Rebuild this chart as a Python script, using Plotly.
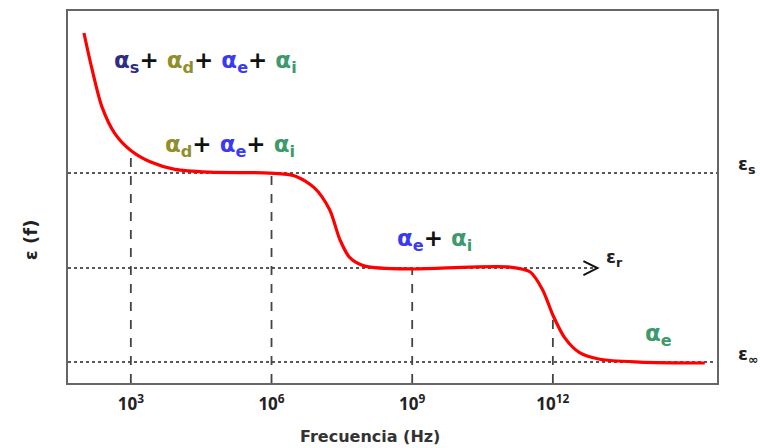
import plotly.graph_objects as go

# ---- data (x = log10 of frequency in Hz, y = permittivity, arbitrary units) ----
curve_logf = [2.0, 2.17, 2.38, 2.66, 3.0, 3.41, 3.94, 4.68, 5.96, 6.5, 6.92, 7.24, 7.46,
              7.67, 7.99, 8.97, 10.23, 11.08, 11.51, 11.78, 12.0, 12.25, 12.57, 13.0, 13.85, 15.24]
curve_eps = [4.50, 4.12, 3.72, 3.43, 3.25, 3.13, 3.05, 3.02, 3.01, 2.98, 2.85, 2.62, 2.30,
             2.11, 2.02, 1.99, 2.01, 2.01, 1.96, 1.77, 1.50, 1.26, 1.10, 1.03, 1.00, 0.99]

eps_s = 3.01
eps_r = 2.0
eps_inf = 1.0
eps_r_arrow_end = 12.95

tick_exp = [3, 6, 9, 12]
tick_text = ["<b>10<sup>3</sup></b>", "<b>10<sup>6</sup></b>", "<b>10<sup>9</sup></b>", "<b>10<sup>12</sup></b>"]
vline_top = [3.2, eps_s, eps_r, 1.52]

x_range = [1.66, 15.5]
y_range = [0.777, 4.734]

C_S = "#2b2d86"
C_D = "#8f8f2c"
C_E = "#3a3af5"
C_I = "#3c9a6c"

fig = go.Figure()

# horizontal dotted reference lines
for yv, x1 in [(eps_s, x_range[1]), (eps_r, eps_r_arrow_end), (eps_inf, 15.45)]:
    fig.add_shape(type="line", x0=x_range[0], x1=x1, y0=yv, y1=yv,
                  line=dict(color="#222222", width=1.6, dash="dot"), layer="below")

# vertical dashed lines
for xv, yt in zip(tick_exp, vline_top):
    fig.add_shape(type="line", x0=xv, x1=xv, y0=y_range[0], y1=yt,
                  line=dict(color="#444444", width=1.8, dash="dash"), layer="below")

# open chevron arrow head on eps_r line
fig.add_shape(type="path", xref="x", yref="y", xsizemode="pixel", ysizemode="pixel",
              xanchor=eps_r_arrow_end, yanchor=eps_r,
              path="M -14 7 L 0 0 L -14 -7",
              line=dict(color="#111111", width=2))

fig.add_trace(go.Scatter(x=curve_logf, y=curve_eps, mode="lines",
                         line=dict(color="#ff0000", width=3.2, shape="spline", smoothing=0.8),
                         hoverinfo="skip", showlegend=False))

def a(sym, col):
    return f"<span style='color:{col}'>α<sub>{sym}</sub></span>"

plus = "<span style='color:#111111'>+ </span>"
afont = dict(family="DejaVu Sans, sans-serif", size=23)

fig.add_annotation(x=2.595, y=4.19, xanchor="left", yanchor="middle", showarrow=False,
                   text="<b>" + a("s", C_S) + plus + a("d", C_D) + plus + a("e", C_E) + plus + a("i", C_I) + "</b>",
                   font=afont)
fig.add_annotation(x=3.68, y=3.30, xanchor="left", yanchor="middle", showarrow=False,
                   text="<b>" + a("d", C_D) + plus + a("e", C_E) + plus + a("i", C_I) + "</b>",
                   font=afont)
fig.add_annotation(x=8.63, y=2.30, xanchor="left", yanchor="middle", showarrow=False,
                   text="<b>" + a("e", C_E) + plus + a("i", C_I) + "</b>",
                   font=afont)
fig.add_annotation(x=13.92, y=1.29, xanchor="left", yanchor="middle", showarrow=False,
                   text="<b>" + a("e", C_I) + "</b>", font=afont)

efont = dict(family="DejaVu Sans, sans-serif", size=18, color="#222222")
fig.add_annotation(x=13.1, y=2.11, xanchor="left", yanchor="middle", showarrow=False,
                   text="<b>ε<sub>r</sub></b>", font=efont)
# right-side labels (outside plot area) — paper x, data y
fig.add_annotation(xref="paper", x=1.03, y=3.10, xanchor="left", yanchor="middle", showarrow=False,
                   text="<b>ε<sub>s</sub></b>", font=efont)
fig.add_annotation(xref="paper", x=1.03, y=1.07, xanchor="left", yanchor="middle", showarrow=False,
                   text="<b>ε<sub>∞</sub></b>", font=efont)

# axis titles
fig.add_annotation(xref="paper", yref="paper", x=0.465, y=-0.145, xanchor="center", yanchor="middle",
                   showarrow=False, text="<b>Frecuencia (Hz)</b>",
                   font=dict(family="DejaVu Sans, sans-serif", size=16, color="#333333"))
fig.add_annotation(xref="paper", yref="paper", x=-0.0585, y=0.384, xanchor="center", yanchor="middle",
                   showarrow=False, textangle=-90, text="<b>ε (f)</b>",
                   font=dict(family="DejaVu Sans, sans-serif", size=18, color="#222222"))

fig.update_layout(
    width=760, height=448,
    margin=dict(l=68, r=43, t=11, b=65),
    paper_bgcolor="white", plot_bgcolor="white",
    showlegend=False,
    xaxis=dict(range=x_range, tickvals=tick_exp, ticktext=tick_text, automargin=False,
               showgrid=False, zeroline=False, showline=True, mirror=True,
               linecolor="#666666", linewidth=2, ticks="inside", ticklen=5,
               tickcolor="#444444", tickwidth=1, ticklabelstandoff=5,
               tickfont=dict(family="Open Sans, sans-serif", size=17, color="#222222")),
    yaxis=dict(range=y_range, showticklabels=False, showgrid=False, zeroline=False,
               automargin=False,
               showline=True, mirror=True, linecolor="#666666", linewidth=2, ticks=""),
)

fig.write_html("out.html")
